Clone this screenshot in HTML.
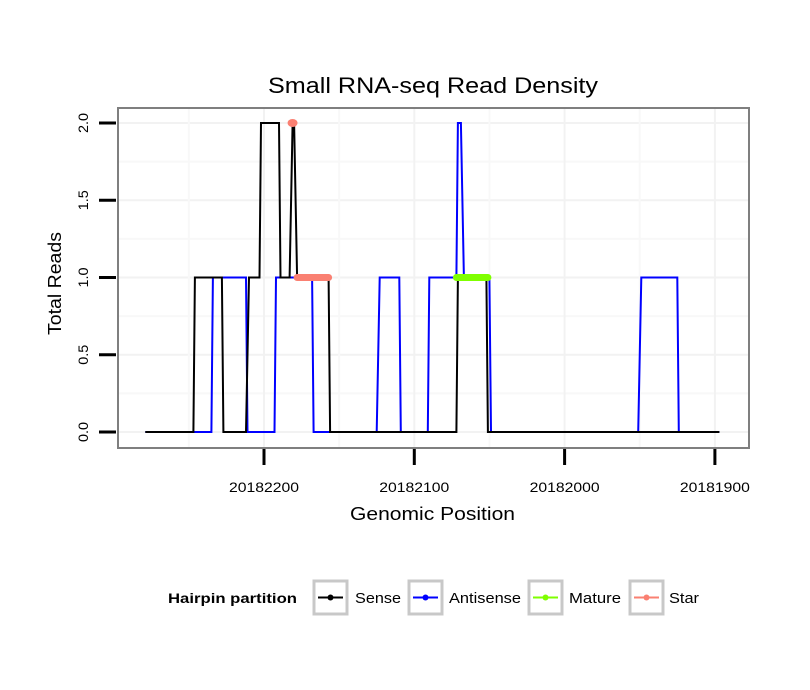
<!DOCTYPE html>
<html><head><meta charset="utf-8"><style>
html,body{margin:0;padding:0;background:#fff;}
svg{display:block;font-family:"Liberation Sans",sans-serif;}
</style></head><body>
<svg id="chart" width="810" height="690" viewBox="0 0 810 690" xmlns="http://www.w3.org/2000/svg">
<rect x="0" y="0" width="810" height="690" fill="#fff"/>
<text x="268" y="93" font-size="22" textLength="330" lengthAdjust="spacingAndGlyphs" fill="#000">Small RNA-seq Read Density</text>
<g id="grid"></g>
<g id="series"></g>
<rect x="118" y="108" width="631" height="340" fill="none" stroke="#7f7f7f" stroke-width="2"/>
<g id="axes"></g>
<text x="350" y="520" font-size="18" textLength="165" lengthAdjust="spacingAndGlyphs">Genomic Position</text>
<text x="0" y="0" font-size="18" textLength="103" lengthAdjust="spacingAndGlyphs" transform="translate(61,335) rotate(-90)">Total Reads</text>
<g>
<text x="168" y="603" font-size="14" font-weight="bold" textLength="129" lengthAdjust="spacingAndGlyphs">Hairpin partition</text>
<g>
<rect x="314" y="581" width="33" height="33" fill="#fff" stroke="#c8c8c8" stroke-width="3"/>
<line x1="318" y1="597.5" x2="343" y2="597.5" stroke="#000" stroke-width="2"/><circle cx="330.5" cy="597.5" r="3" fill="#000"/>
<text x="355" y="603" font-size="15" textLength="46" lengthAdjust="spacingAndGlyphs">Sense</text></g>
<g>
<rect x="409" y="581" width="33" height="33" fill="#fff" stroke="#c8c8c8" stroke-width="3"/>
<line x1="413" y1="597.5" x2="438" y2="597.5" stroke="#0000ff" stroke-width="2"/><circle cx="425.5" cy="597.5" r="3" fill="#0000ff"/>
<text x="449" y="603" font-size="15" textLength="72" lengthAdjust="spacingAndGlyphs">Antisense</text></g>
<g>
<rect x="529" y="581" width="33" height="33" fill="#fff" stroke="#c8c8c8" stroke-width="3"/>
<line x1="533" y1="597.5" x2="558" y2="597.5" stroke="#7fff00" stroke-width="2"/><circle cx="545.5" cy="597.5" r="3" fill="#7fff00"/>
<text x="569" y="603" font-size="15" textLength="52" lengthAdjust="spacingAndGlyphs">Mature</text></g>
<g>
<rect x="630" y="581" width="33" height="33" fill="#fff" stroke="#c8c8c8" stroke-width="3"/>
<line x1="634" y1="597.5" x2="659" y2="597.5" stroke="#fa8072" stroke-width="2"/><circle cx="646.5" cy="597.5" r="3" fill="#fa8072"/>
<text x="669" y="603" font-size="15" textLength="30" lengthAdjust="spacingAndGlyphs">Star</text></g>
</g>
</svg>
<script>
const xTicks = [20182200, 20182100, 20182000, 20181900];
const yTicks = [0, 0.5, 1.0, 1.5, 2.0];
const yTickLabels = ["0.0", "0.5", "1.0", "1.5", "2.0"];
const senseMaskPos = [20182279,20182247,20182246,20182228,20182227,20182212,20182210,20182203,20182202,20182190,20182189,20182183,20182181,20182180,20182178,20182157,20182156,20182072,20182071,20182052,20182051,20181897];
const senseValues = [0,0,1,1,0,0,1,1,2,2,1,1,2,2,1,1,0,0,1,1,0,0];
const antisensePos = [20182279,20182235,20182234,20182212,20182211,20182193,20182192,20182168,20182167,20182125,20182123,20182110,20182109,20182091,20182090,20182072,20182071,20182069,20182067,20182050,20182049,20181951,20181949,20181925,20181924,20181897];
const antisenseValues = [0,0,1,1,0,0,1,1,0,0,1,1,0,0,1,1,2,2,1,1,0,0,1,1,0,0];
const maturePos = [20182072,20182051];
const matureValues = [1,1];
const starPos = [20182178,20182157];
const starValues = [1,1];
const starPointPos = [20182181];
const starPointValues = [2];

const NS = "http://www.w3.org/2000/svg";
function xs(p){ return 264 + (20182200 - p) * 1.503; }
function ys(v){ return 432 - v * 154.5; }
function mk(tag, attrs, parent){ const e = document.createElementNS(NS, tag); for (const k in attrs) e.setAttribute(k, attrs[k]); parent.appendChild(e); return e; }

const grid = document.getElementById('grid');
for (let i = 0; i < yTicks.length; i++) {
  const g = mk('line', {x1:119, x2:748, y1:ys(yTicks[i]), y2:ys(yTicks[i]), stroke:'#f2f2f2', 'stroke-width':2}, grid);
  
  
  if (i < yTicks.length - 1) {
    const m = mk('line', {x1:119, x2:748, y1:ys((yTicks[i]+yTicks[i+1])/2), y2:ys((yTicks[i]+yTicks[i+1])/2), stroke:'#f8f8f8', 'stroke-width':2}, grid);
    
    
  }
}
for (let i = 0; i < xTicks.length; i++) {
  const g = mk('line', {x1:xs(xTicks[i]), x2:xs(xTicks[i]), y1:109, y2:447, stroke:'#f2f2f2', 'stroke-width':2}, grid);
  
  
  const mm = mk('line', {x1:xs(xTicks[i]+50), x2:xs(xTicks[i]+50), y1:109, y2:447, stroke:'#f8f8f8', 'stroke-width':2}, grid);
  
  
}

const series = document.getElementById('series');
function pts(P, V){ return P.map((p,i)=>xs(p).toFixed(1)+','+ys(V[i]).toFixed(1)).join(' '); }
const a = mk('polyline', {points:pts(antisensePos, antisenseValues), fill:'none', stroke:'#0000ff', 'stroke-width':2}, series);


const s = mk('polyline', {points:pts(senseMaskPos, senseValues), fill:'none', stroke:'#000', 'stroke-width':2}, series);


const m = mk('polyline', {points:pts(maturePos, matureValues), fill:'none', stroke:'#7fff00', 'stroke-width':7, 'stroke-linecap':'round'}, series);


const st = mk('polyline', {points:pts(starPos, starValues), fill:'none', stroke:'#fa8072', 'stroke-width':7, 'stroke-linecap':'round'}, series);


for (let i = 0; i < starPointPos.length; i++) {
  const c = mk('ellipse', {cx:xs(starPointPos[i]), cy:ys(starPointValues[i]), rx:5, ry:4, fill:'#fa8072'}, series);
  
  
}

const axes = document.getElementById('axes');
for (let i = 0; i < yTicks.length; i++) {
  const t = mk('line', {x1:99, x2:116, y1:ys(yTicks[i]), y2:ys(yTicks[i]), stroke:'#000', 'stroke-width':3}, axes);
  
  
  const y = ys(yTicks[i]);
  const l = mk('text', {x:0, y:0, 'font-size':14, 'text-anchor':'middle', textLength:20, lengthAdjust:'spacingAndGlyphs', transform:'translate(88,'+y+') rotate(-90)'}, axes);
  l.textContent = yTickLabels[i];
  
  
}
for (let i = 0; i < xTicks.length; i++) {
  const t = mk('line', {x1:xs(xTicks[i]), x2:xs(xTicks[i]), y1:449, y2:465, stroke:'#000', 'stroke-width':3}, axes);
  
  
  const l = mk('text', {x:xs(xTicks[i]), y:492, 'font-size':14, 'text-anchor':'middle', textLength:70, lengthAdjust:'spacingAndGlyphs'}, axes);
  l.textContent = String(xTicks[i]);
  
  
}
</script>
</body></html>
